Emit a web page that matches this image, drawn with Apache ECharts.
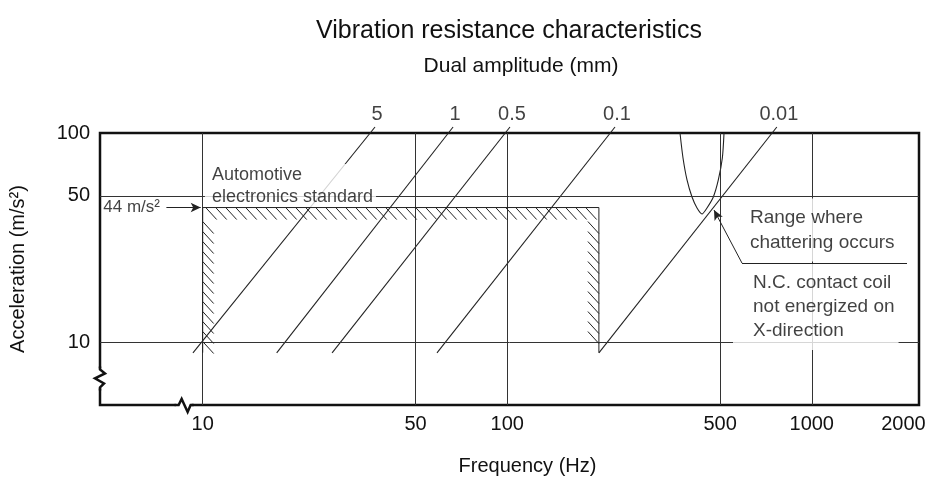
<!DOCTYPE html>
<html><head><meta charset="utf-8">
<script src="https://cdn.jsdelivr.net/npm/echarts@6/dist/echarts.min.js"></script>
<style>html,body{margin:0;padding:0;background:#fff}#c{width:948px;height:487px}</style>
</head><body><div id="c"></div>
<script>
// ---- data ----
const xTicks = [10, 50, 100, 500, 1000, 2000];
const yTicks = [10, 50, 100];
const xGrid = [10, 50, 100, 500, 1000];
const yGrid = [10, 50];
const amplitudeLabels = ['5', '1', '0.5', '0.1', '0.01'];
const lineFreqStart = [9.29, 17.5, 26.6, 58.8, 200];
const lineFreqEnd = [36.8, 66.4, 102.1, 225.9, 768];
const lineAccStart = [8.87, 8.87, 8.87, 8.87, 8.87];
const lineAccEnd = [106.8, 106.8, 106.8, 106.8, 106.8];
const stdFreq = [10, 200];
const stdAcc = 44;
const stdAccBottom = 8.9;
const chatterFreq = [369.3, 377.8, 389.4, 404.4, 420.0, 436.1, 452.9, 475.1, 493.4, 508.6, 515.1];
const chatterAcc = [100, 75.9, 59.6, 49.4, 43.8, 41.0, 43.8, 49.4, 59.6, 75.9, 100];
const breakPoints = [[8.4, 5], [4.6, 6.7]];

const FONT = '"Liberation Sans", Arial, sans-serif';
const TXT = '#111';
const LINE = '#222';

const chart = echarts.init(document.getElementById('c'), null, {renderer: 'canvas'});

const diagSeries = amplitudeLabels.map((lab, i) => ({
  type: 'line', name: 'D' + lab, z: 2, silent: true, clip: false,
  symbol: 'none',
  lineStyle: {color: LINE, width: 1.1},
  data: [[lineFreqStart[i], lineAccStart[i]], [lineFreqEnd[i], lineAccEnd[i]]]
}));

function seg(x1, y1, x2, y2, st) {
  return {type: 'line', shape: {x1, y1, x2, y2}, style: st};
}

const option = {
  animation: false,
  backgroundColor: '#fff',
  textStyle: {fontFamily: FONT},
  title: [
    {text: 'Vibration resistance characteristics', left: 504, top: 14, textAlign: 'center',
     textStyle: {fontSize: 25, fontWeight: 'normal', color: TXT, fontFamily: FONT}},
    {text: 'Dual amplitude (mm)', left: 516, top: 51, textAlign: 'center',
     textStyle: {fontSize: 21, fontWeight: 'normal', color: TXT, fontFamily: FONT}}
  ],
  grid: {left: 100, top: 133, width: 819, height: 272, show: true,
         borderColor: '#111', borderWidth: 2.5, backgroundColor: 'transparent'},
  xAxis: {
    type: 'log', logBase: 10, min: 4.6, max: 2250,
    axisLine: {show: false}, axisTick: {show: false}, splitLine: {show: false},
    axisLabel: {customValues: xTicks, formatter: v => String(Math.round(v)),
                fontSize: 20, color: TXT, margin: 9, fontFamily: FONT},
    name: 'Frequency (Hz)', nameLocation: 'middle', nameGap: 51,
    nameTextStyle: {fontSize: 20, color: TXT, fontFamily: FONT, padding: [0, 0, 0, 36]}
  },
  yAxis: {
    type: 'log', logBase: 10, min: 5, max: 100,
    axisLine: {show: false}, axisTick: {show: false}, splitLine: {show: false},
    axisLabel: {customValues: yTicks, formatter: v => String(Math.round(v)),
                fontSize: 20, color: TXT, margin: 10, fontFamily: FONT},
    name: 'Acceleration (m/s²)', nameLocation: 'middle', nameGap: 72,
    nameTextStyle: {fontSize: 20, color: TXT, fontFamily: FONT}
  },
  series: [
    {
      type: 'line', name: 'grid', z: 1, silent: true, symbol: 'none',
      lineStyle: {opacity: 0}, data: [[10, 10]],
      markLine: {
        silent: true, animation: false, symbol: ['none', 'none'],
        label: {show: false},
        lineStyle: {color: '#333', width: 1, type: 'solid'},
        emphasis: {disabled: true},
        data: xGrid.map(v => ({xAxis: v})).concat(yGrid.map(v => ({yAxis: v})))
      }
    },
    ...diagSeries,
    {
      type: 'scatter', name: 'labels', z: 3, silent: true, clip: false,
      symbolSize: 0,
      data: amplitudeLabels.map((t, i) => ({name: t, value: [lineFreqEnd[i], lineAccEnd[i]]})),
      label: {show: true, position: 'top', distance: 3, offset: [2, 0], formatter: '{b}',
              fontSize: 20, color: TXT, fontFamily: FONT}
    },
    {
      type: 'line', name: 'chatter', z: 2, silent: true, symbol: 'none', smooth: 0.25,
      lineStyle: {color: LINE, width: 1.1},
      data: chatterFreq.map((f, i) => [f, chatterAcc[i]])
    },
    {
      type: 'scatter', name: 'notes', z: 5, silent: true, clip: false, symbolSize: 0,
      data: [
        {value: [10.17, 55.8], label: {position: 'right', distance: 0,
          formatter: 'Automotive\nelectronics standard', fontSize: 18, lineHeight: 22,
          backgroundColor: '#fff', padding: [0, 3, 0, 7]}},
        {value: [7.24, 44], label: {position: 'left', distance: 0,
          formatter: '44 m/s²', fontSize: 17}},
        {value: [608, 34.36], label: {position: 'right', distance: 0,
          formatter: 'Range where\nchattering occurs', fontSize: 19, lineHeight: 25,
          backgroundColor: '#fff', padding: [7, 4, 6, 4]}},
        {value: [551.3, 14.72], label: {position: 'right', distance: 0,
          formatter: 'N.C. contact coil\nnot energized on\nX-direction', fontSize: 19, lineHeight: 24,
          backgroundColor: '#fff', padding: [9, 4, 5, 20]}}
      ],
      label: {show: true, color: TXT, fontFamily: FONT}
    },
    {
      type: 'custom', name: 'standard', z: 7, silent: true, clip: false,
      data: [[stdFreq[0], stdAcc]],
      renderItem: function (params, api) {
        const tl = api.coord([stdFreq[0], stdAcc]);
        const tr = api.coord([stdFreq[1], stdAcc]);
        const br = api.coord([stdFreq[1], stdAccBottom]);
        const bl = api.coord([stdFreq[0], stdAccBottom]);
        const st = {stroke: '#222', lineWidth: 1, fill: null};
        const children = [{type: 'polyline', shape: {points: [bl, tl, tr, br]}, style: st}];
        const dx = 11, dy = 12, step = 10;
        for (let x = tl[0] + 3; x + dx <= tr[0]; x += step) children.push(seg(x, tl[1], x + dx, tl[1] + dy, st));
        for (let y = tl[1] + dy + 2; y + dy <= bl[1] + 1; y += step) children.push(seg(tl[0], y, tl[0] + dx, y + dy, st));
        for (let y = tr[1] + dy + 2; y + dy <= br[1]; y += step) children.push(seg(tr[0] - dx, y, tr[0], y + dy, st));
        return {type: 'group', children};
      }
    },
    {
      type: 'line', name: 'arrows', z: 8, silent: true, symbol: 'none',
      lineStyle: {opacity: 0}, data: [[10, 10]],
      markLine: {
        silent: true, animation: false, symbol: ['none', 'arrow'], symbolSize: [7, 10],
        label: {show: false}, emphasis: {disabled: true},
        lineStyle: {color: '#222', width: 1, type: 'solid'},
        data: [
          [{coord: [7.6, 44]}, {coord: [9.85, 44]}],
          [{coord: [590, 23.88]}, {coord: [477.6, 42.8]}],
          [{coord: [590, 23.88], symbol: 'none'}, {coord: [2055, 23.88], symbol: 'none'}]
        ]
      }
    },
    {
      type: 'custom', name: 'breaks', z: 9, silent: true, clip: false,
      data: breakPoints,
      renderItem: function (params, api) {
        const p = api.coord([api.value(0), api.value(1)]);
        const st = {stroke: '#111', lineWidth: 2.5, fill: null, lineJoin: 'miter'};
        if (params.dataIndex === 0) {
          return {type: 'group', children: [
            {type: 'rect', shape: {x: p[0] - 4, y: p[1] - 3, width: 16, height: 6}, style: {fill: '#fff'}},
            {type: 'polyline', shape: {points: [[p[0] - 5, p[1]], [p[0] - 1, p[1]], [p[0] + 2, p[1] - 6], [p[0] + 8, p[1] + 7], [p[0] + 11, p[1]], [p[0] + 14, p[1]]]}, style: st}
          ]};
        }
        return {type: 'group', children: [
          {type: 'rect', shape: {x: p[0] - 3, y: p[1] - 10, width: 6, height: 20}, style: {fill: '#fff'}},
          {type: 'polyline', shape: {points: [[p[0], p[1] - 12], [p[0], p[1] - 9], [p[0] + 5, p[1] - 5], [p[0] - 5, p[1]], [p[0] + 4, p[1] + 5], [p[0], p[1] + 9], [p[0], p[1] + 12]]}, style: st}
        ]};
      }
    }
  ]
};
chart.setOption(option);
</script>
</body></html>
